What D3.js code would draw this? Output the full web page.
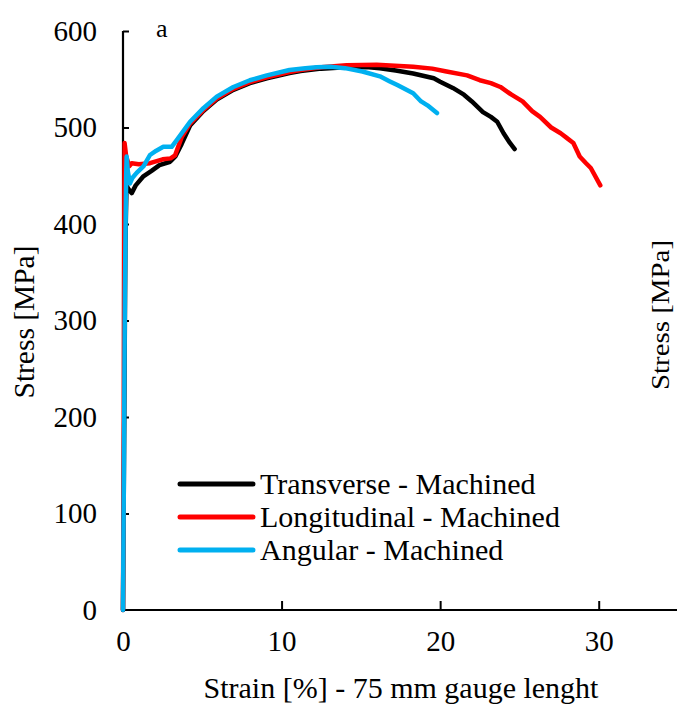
<!DOCTYPE html>
<html><head><meta charset="utf-8">
<script src="https://cdn.jsdelivr.net/npm/d3@7"></script>
<style>body{margin:0;background:#fff}svg{display:block}text{font-family:"Liberation Serif","Times New Roman",serif;fill:#000}</style>
</head><body>
<svg id="c" width="677" height="706"></svg>
<script>
const seriesNames = ["Transverse - Machined", "Longitudinal - Machined", "Angular - Machined"];
const seriesColors = ["#000000", "#ff0000", "#00b0f0"];
const xTicks = [0, 10, 20, 30];
const yTicks = [0, 100, 200, 300, 400, 500, 600];

const transverse = [[0,0],[0.08,200],[0.15,380],[0.22,440],[0.35,436],[0.55,432],[0.8,440],[1.26,449],[1.8,455],[2.3,461],[2.97,464.5],[3.3,470],[3.7,483],[4.23,502],[5.07,517],[5.91,529],[6.96,539],[8,546],[9.07,551],[10.5,556.5],[11.2,558.5],[12.5,561],[14,562.5],[15.5,562.5],[16.2,561.5],[17.2,559],[18.3,556],[19.6,551],[20,547.5],[20.8,541],[21.5,534],[22,527],[22.7,516],[23.2,511],[23.6,506],[24.0,494],[24.4,484],[24.7,477.7]];
const longitudinal = [[0,0],[0.05,200],[0.08,400],[0.1,484],[0.2,470],[0.4,460],[0.55,463],[1.0,462],[1.7,463],[2.5,467],[3.0,468],[3.28,471],[3.7,490],[4.23,504],[5.07,518],[5.91,530],[6.96,540],[8,547],[9.07,552],[10.5,557.5],[11.2,559.5],[12.5,562.5],[14.1,564.5],[16,565],[18.3,563],[19.5,561],[20.4,558],[21.7,554],[22.5,549],[23.2,546],[23.8,542],[24.5,534],[25.2,527],[25.8,517],[26.3,511],[27.0,500],[27.6,494],[28.0,489],[28.4,484],[28.8,470],[29.2,463],[29.5,458],[30.1,440]];
const angular = [[0,0],[0.06,150],[0.12,330],[0.2,450],[0.23,470],[0.3,455],[0.44,442],[0.6,448],[0.86,453],[1.3,460],[1.7,471.5],[2.1,476],[2.54,480],[3.07,480],[3.39,487],[4.23,506],[5.07,520],[5.91,532],[6.96,542],[8,549],[9.07,554],[10.5,559.6],[11.5,561.5],[12.2,562.5],[13.1,563],[14,561.5],[15.1,558],[16.2,553],[16.8,548],[17.3,544],[18.3,535.5],[18.8,527],[19.2,523],[19.8,515]];
const seriesData = [transverse, longitudinal, angular];

const svg = d3.select("#c");
const x = d3.scaleLinear().domain([0, 35]).range([123, 678]);
const y = d3.scaleLinear().domain([0, 600]).range([610, 31]);
const FONT = '"Liberation Serif","Times New Roman",serif';

// axes
const xAxis = svg.append("g").attr("transform", "translate(0,610)")
  .call(d3.axisBottom(x).tickValues(xTicks).tickSize(-9).tickPadding(20).tickFormat(d3.format("d")));
const yAxis = svg.append("g").attr("transform", "translate(123,0)")
  .call(d3.axisLeft(y).tickValues(yTicks).tickSize(-6).tickPadding(26).tickFormat(d3.format("d")));
[xAxis, yAxis].forEach(g => {
  g.select(".domain").attr("stroke", "#000").attr("stroke-width", 2.2);
  g.selectAll(".tick line").attr("stroke", "#000").attr("stroke-width", 2);
  g.selectAll(".tick text").style("font-size", "29px").style("font-family", FONT);
});
xAxis.select(".domain").attr("d", `M123,0H677`);
yAxis.select(".domain").attr("d", `M0,610V31`);
xAxis.selectAll(".tick").filter(d => d === 0).select("line").remove();
yAxis.selectAll(".tick").filter(d => d === 0).select("line").remove();

// lines
const line = d3.line().x(d => x(d[0])).y(d => y(d[1])).curve(d3.curveLinear);
seriesData.forEach((s, i) => {
  svg.append("path").datum(s).attr("d", line).attr("fill", "none")
    .attr("stroke", seriesColors[i]).attr("stroke-width", 4.5)
    .attr("stroke-linejoin", "round").attr("stroke-linecap", "round");
});

// legend
const leg = svg.append("g");
seriesNames.forEach((n, i) => {
  const yy = 484 + i * 33;
  leg.append("line").attr("x1", 180).attr("x2", 253).attr("y1", yy).attr("y2", yy)
    .attr("stroke", seriesColors[i]).attr("stroke-width", 5).attr("stroke-linecap", "round");
  leg.append("text").attr("x", 260).attr("y", yy + 10).style("font-size", "30px").text(n);
});

// labels
svg.append("text").attr("x", 401).attr("y", 698).attr("text-anchor", "middle").style("font-size", "30px")
  .text("Strain [%] - 75 mm gauge lenght");
svg.append("text").attr("transform", "translate(34,322) rotate(-90)").attr("text-anchor", "middle").style("font-size", "30px")
  .attr("textLength", 153).attr("lengthAdjust", "spacingAndGlyphs")
  .text("Stress [MPa]");
svg.append("text").attr("transform", "translate(669,315) rotate(-90)").attr("text-anchor", "middle").style("font-size", "25px")
  .attr("textLength", 150).attr("lengthAdjust", "spacingAndGlyphs")
  .text("Stress [MPa]");
svg.append("text").attr("x", 156).attr("y", 37).style("font-size", "26px").text("a");
</script>
</body></html>
